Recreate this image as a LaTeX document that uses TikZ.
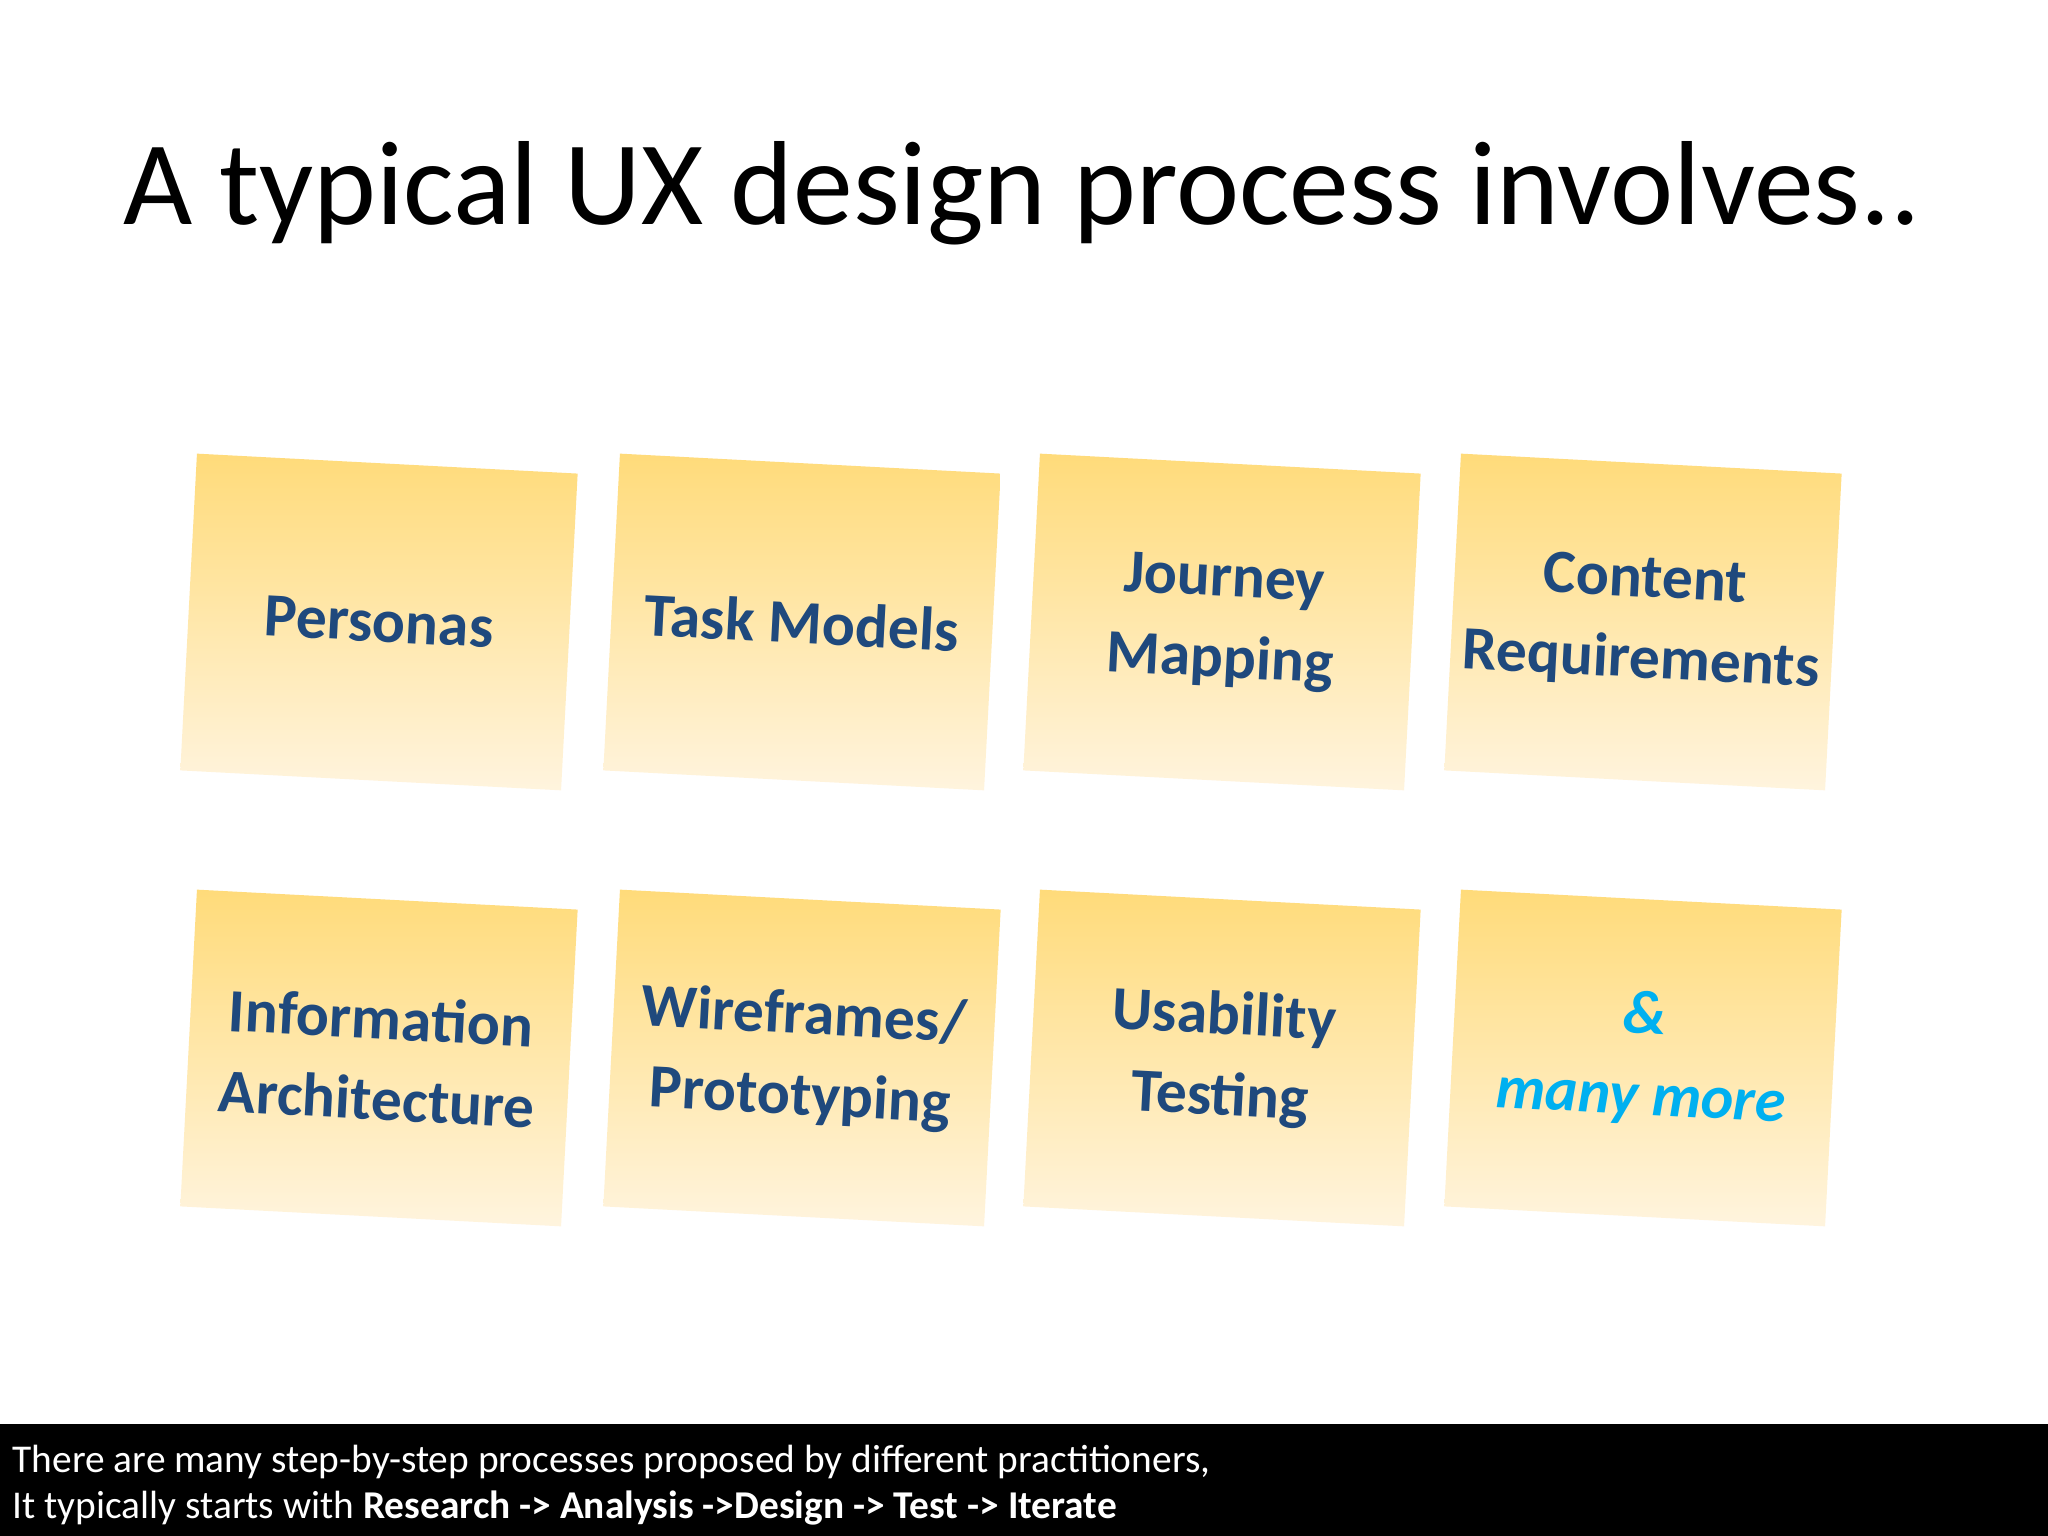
\documentclass[tikz,border=0pt]{standalone}
\usepackage{fontspec}
\setmainfont{Carlito}
\definecolor{notetop}{HTML}{FFDB7A}
\definecolor{notebot}{HTML}{FFF4DE}
\definecolor{notetext}{HTML}{1F497D}
\definecolor{moretext}{HTML}{00B0F0}
\begin{document}
\begin{tikzpicture}[x=0.01cm,y=0.01cm,
  note/.style={rotate=-3,minimum width=3.81cm,minimum height=3.17cm,inner sep=0pt,
    top color=notetop,bottom color=notebot,draw=none,
    align=center,text=notetext,font=\fontsize{17.5}{23}\selectfont\bfseries}]
\useasboundingbox (0,0) rectangle (2048,1536);
\fill[white] (0,0) rectangle (2048,1536);
\node (title) at (1022,1343) {\fontsize{34}{40}\selectfont A typical UX design process involves..};
\node[note] (n1) at (379,914) {Personas};
\node[note] (n2) at (802,914) {Task Models};
\node[note] (n3) at (1222,914) {Journey\\Mapping};
\node[note] (n4) at (1643,914) {Content\\Requirements};
\node[note] (n5) at (379,478) {Information\\Architecture};
\node[note] (n6) at (802,478) {Wireframes/\\Prototyping};
\node[note] (n7) at (1222,478) {Usability\\Testing};
\node[note,text=moretext,font=\fontsize{17.5}{23}\selectfont\bfseries\itshape] (n8) at (1643,478) {\&\\many more};
\fill[black] (0,0) rectangle (2048,112);
\node[anchor=base west,text=white,inner sep=0pt,font=\fontsize{11.2}{13}\selectfont] (l1) at (12,64) {There are many step-by-step processes proposed by different practitioners,};
\node[anchor=base west,text=white,inner sep=0pt,font=\fontsize{11.2}{13}\selectfont] (l2) at (12,18) {It typically starts with \textbf{Research -> Analysis ->Design -> Test -> Iterate}};
\end{tikzpicture}
\end{document}
